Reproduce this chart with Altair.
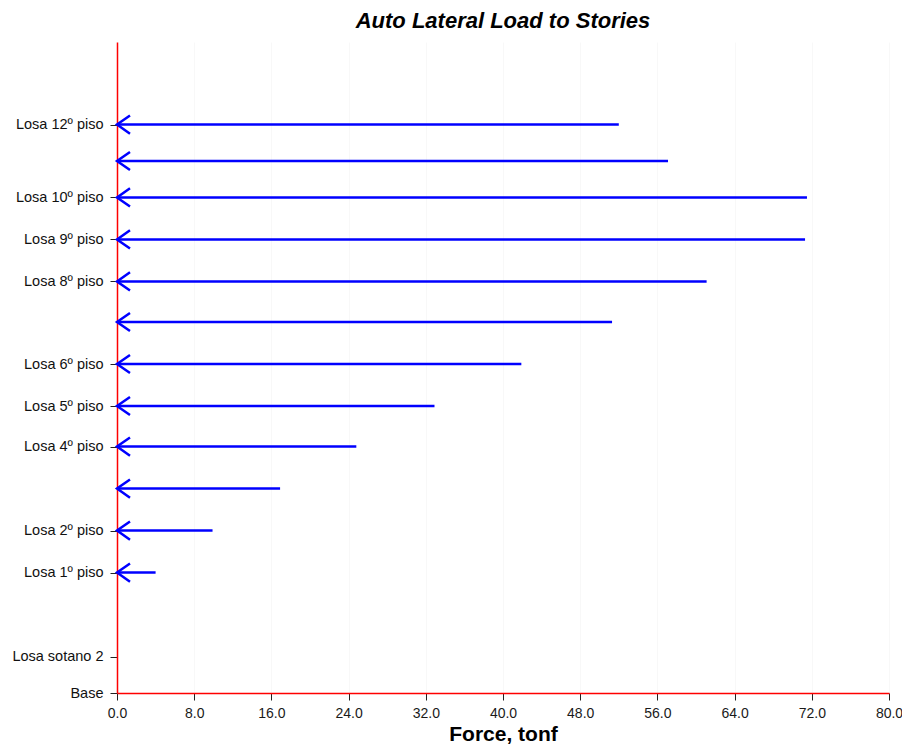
import altair as alt
import pandas as pd

# Story data (elevations in m)
story_names = ["Base", "Losa sotano 2", "Losa 1º piso", "Losa 2º piso", "",
               "Losa 4º piso", "Losa 5º piso", "Losa 6º piso", "", "Losa 8º piso",
               "Losa 9º piso", "Losa 10º piso", "", "Losa 12º piso"]
elevations = [0.0, 2.6, 8.6, 11.6, 14.6, 17.6, 20.5, 23.5, 26.5, 29.4,
              32.4, 35.4, 38.0, 40.6]
forces = [None, None, 4.0, 9.9, 16.9, 24.8, 32.9, 41.9, 51.3, 61.1,
          71.3, 71.5, 57.1, 52.0]
x_ticks = [0, 8, 16, 24, 32, 40, 48, 56, 64, 72, 80]

df = pd.DataFrame({"story": story_names, "elev": elevations, "force": forces})
loads = df.dropna(subset=["force"])

labeled = [(e, n) for e, n in zip(elevations, story_names) if n]
label_expr = ""
for e, n in labeled:
    label_expr += f"abs(datum.value - {e}) < 0.01 ? '{n}' : "
label_expr += "''"

FONT = "Liberation Sans"
BLUE = "#0000ff"

x_scale = alt.Scale(domain=[0, 80], nice=False, zero=True)
y_scale = alt.Scale(domain=[0, 46.5], nice=False, zero=True)

x_axis = alt.Axis(values=x_ticks, format=".1f", title="Force, tonf",
                  titleFontSize=21, titleFont=FONT, titleFontWeight="bold",
                  titleColor="#000", titlePadding=3,
                  labelFont=FONT, labelFontSize=14, labelColor="#1a1a1a",
                  labelPadding=6, labelFlush=False, labelOverlap=False,
                  tickSize=7, tickColor="#222",
                  domainColor="#ff0000", domainWidth=1.5,
                  grid=True, gridColor="#f8f8f8", gridWidth=1)
y_axis = alt.Axis(values=[e for e, _ in labeled], labelExpr=label_expr,
                  title=None, labelFont=FONT, labelFontSize=14.5,
                  labelColor="#111", labelPadding=7, tickSize=7,
                  labelOverlap=False,
                  tickColor="#222", domainColor="#ff0000", domainWidth=1.5,
                  grid=False)

rules = alt.Chart(loads).mark_rule(color=BLUE, strokeWidth=2.5).encode(
    x=alt.X("zero:Q", scale=x_scale, axis=x_axis),
    x2="force:Q",
    y=alt.Y("elev:Q", scale=y_scale, axis=y_axis),
).transform_calculate(zero="0")

heads = alt.Chart(loads).mark_point(
    shape="M1,-0.7 L0,0 L1,0.7", size=676, filled=False,
    color=BLUE, strokeWidth=2.5, opacity=1
).encode(
    x=alt.X("zero:Q", scale=x_scale, axis=x_axis),
    y=alt.Y("elev:Q", scale=y_scale, axis=y_axis),
).transform_calculate(zero="0")

chart = alt.layer(rules, heads).properties(
    width=772, height=651,
    title=alt.TitleParams("Auto Lateral Load to Stories", font=FONT,
                          fontSize=22, fontStyle="italic", fontWeight="bold",
                          color="#000", anchor="middle", offset=9),
    autosize=alt.AutoSizeParams(type="none"),
    padding={"left": 109, "top": 34, "right": 13, "bottom": 52},
).configure_view(stroke=None)

chart.save("out.html", embed_options={"renderer": "svg", "actions": False})
